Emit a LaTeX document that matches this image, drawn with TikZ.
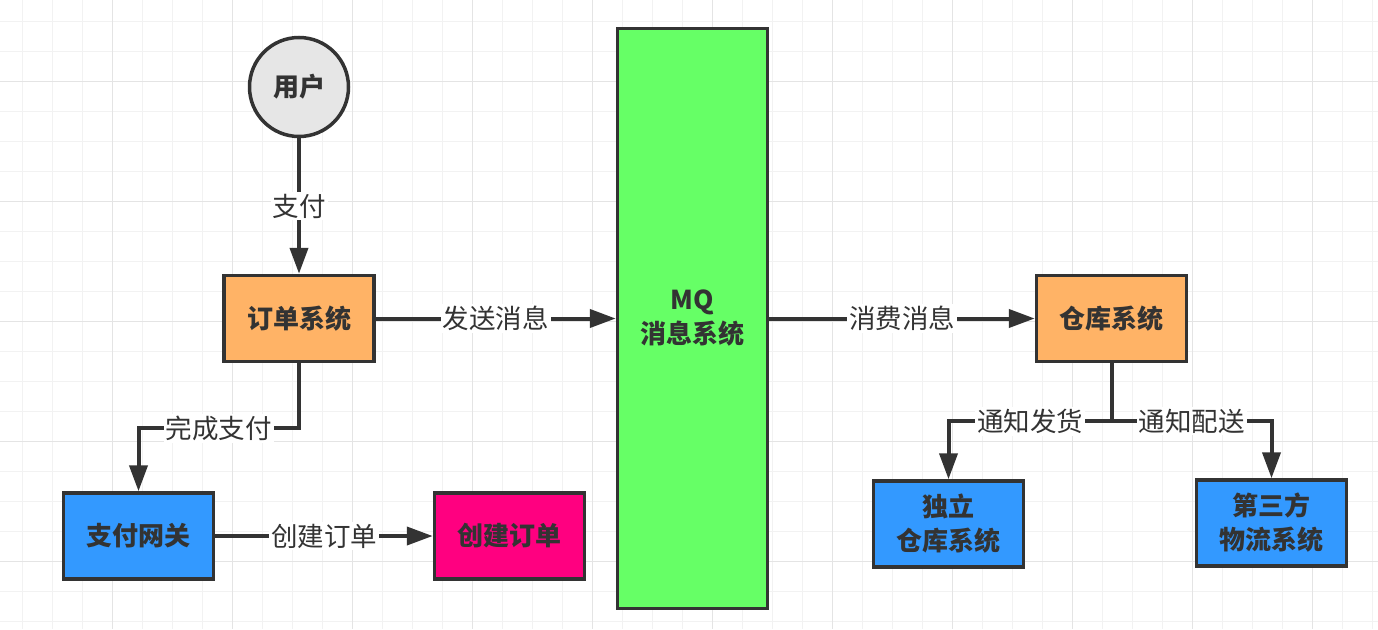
\documentclass[tikz,border=0pt]{standalone}
\usepackage{fontspec}
\setmainfont{Noto Sans CJK SC}
\usetikzlibrary{arrows.meta,positioning,calc}
\definecolor{ink}{HTML}{333333}
\definecolor{gridminor}{HTML}{F2F2F2}
\definecolor{gridmajor}{HTML}{E4E4E4}
\definecolor{orangefill}{HTML}{FFB366}
\definecolor{greenfill}{HTML}{66FF66}
\definecolor{bluefill}{HTML}{3399FF}
\definecolor{pinkfill}{HTML}{FF0080}
\definecolor{grayfill}{HTML}{E6E6E6}
\tikzset{
  sysbox/.style={draw=ink, fill=orangefill, line width=3.5pt, minimum width=150pt,
    minimum height=86pt, align=center, inner sep=0pt,
    font=\fontsize{26}{34}\selectfont\bfseries, text=ink},
  bluebox/.style={sysbox, fill=bluefill},
  pinkbox/.style={sysbox, fill=pinkfill},
  mqbox/.style={sysbox, fill=greenfill, minimum height=580pt},
  userbox/.style={sysbox, circle, fill=grayfill, minimum size=99pt},
  flow/.style={-{Triangle[length=26pt, width=18pt]}, draw=ink, line width=4pt},
  elabel/.style={font=\fontsize{26.5}{30}\selectfont, text=ink, fill=white, inner sep=2pt}
}

\begin{document}
\begin{tikzpicture}[x=1pt,y=-1pt]
  \useasboundingbox (0,0) rectangle (1378,629);
  \fill[white] (0,0) rectangle (1378,629);
  \foreach \gx in {22.7,52.7,...,1378} \draw[gridminor, line width=1pt] (\gx,0) -- (\gx,629);
  \foreach \gy in {21.7,51.7,...,629} \draw[gridminor, line width=1pt] (0,\gy) -- (1378,\gy);
  \foreach \gx in {112.7,232.7,...,1378} \draw[gridmajor, line width=1pt] (\gx,0) -- (\gx,629);
  \foreach \gy in {81.7,201.7,...,629} \draw[gridmajor, line width=1pt] (0,\gy) -- (1378,\gy);

  \node[userbox] (user) at (299,87) {用户};
  \node[sysbox] (order) at (299,318.5) {订单系统};
  \node[mqbox] (mq) at (692.5,318.5) {MQ\\消息系统};
  \node[sysbox] (stock) at (1111.5,318.5) {仓库系统};
  \node[bluebox] (pay) at (138.5,536) {支付网关};
  \node[pinkbox] (create) at (509.5,536) {创建订单};
  \node[bluebox] (indep) at (948.5,524) {独立\\仓库系统};
  \node[bluebox] (third) at (1271.5,523) {第三方\\物流系统};

  \draw[flow] (user) -- node[elabel] {支付} (order);
  \draw[flow] (order) -- node[elabel] {发送消息} (order -| mq.west);
  \draw[flow] (order.south) -- ++(0,65) -| node[elabel, pos=.25] {完成支付} (pay.north);
  \draw[flow] (pay) -- node[elabel] {创建订单} (create);
  \draw[flow] (stock -| mq.east) -- node[elabel] {消费消息} (stock);
  \draw[flow] (stock.south) -- ++(0,58) coordinate (split) -| node[elabel, pos=.25] {通知发货} (indep.north);
  \draw[flow] (split) -| node[elabel, pos=.25] {通知配送} (third.north);
\end{tikzpicture}
\end{document}
